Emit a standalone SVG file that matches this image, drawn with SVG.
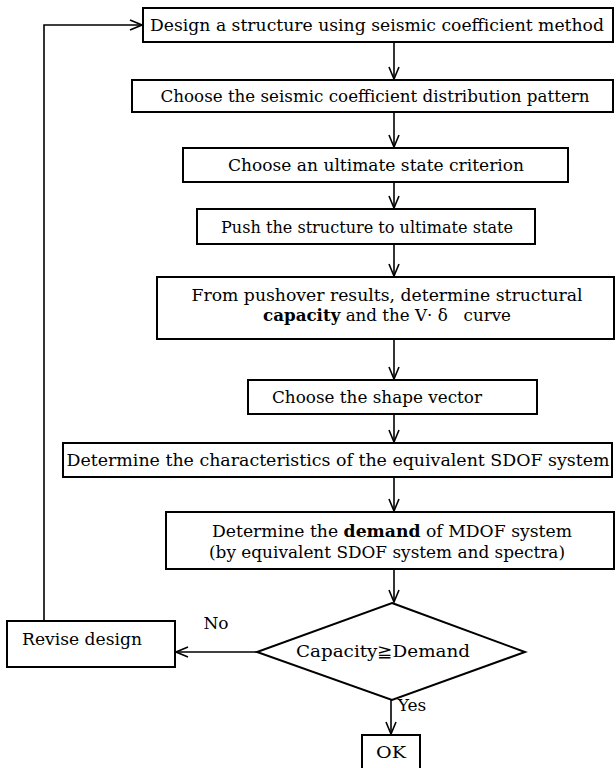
<svg xmlns="http://www.w3.org/2000/svg" width="616" height="768" viewBox="0 0 616 768">
<defs>
<marker id="arrh" viewBox="0 0 14 12" refX="13" refY="6" markerWidth="14" markerHeight="12" markerUnits="userSpaceOnUse" orient="auto">
<path d="M1,1 L13,6 L1,11" fill="none" stroke="#000" stroke-width="1.6"/>
</marker>
<style>
.b{fill:#fff;stroke:#000;stroke-width:2}
.t{font-family:"DejaVu Serif","Liberation Serif",serif;font-size:17px;fill:#000;text-anchor:middle}
.c{fill:none;stroke:#000;stroke-width:1.6}
</style>
</defs>
<rect width="616" height="768" fill="#fff"/>
<g id="connectors">
<path class="c" d="M44,621 V25 H142" marker-end="url(#arrh)"/>
<path class="c" d="M394,42 V79" marker-end="url(#arrh)"/>
<path class="c" d="M394,112 V147" marker-end="url(#arrh)"/>
<path class="c" d="M394,182 V208" marker-end="url(#arrh)"/>
<path class="c" d="M394,244 V276" marker-end="url(#arrh)"/>
<path class="c" d="M394,339 V379" marker-end="url(#arrh)"/>
<path class="c" d="M394,414 V442" marker-end="url(#arrh)"/>
<path class="c" d="M394,477 V511" marker-end="url(#arrh)"/>
<path class="c" d="M394,569 V602" marker-end="url(#arrh)"/>
<path class="c" d="M257,652 H176" marker-end="url(#arrh)"/>
<path class="c" d="M391,700 V734" marker-end="url(#arrh)"/>
</g>
<g id="n1"><rect class="b" x="143" y="8" width="470" height="34"/><text class="t" x="377" y="31" textLength="454" lengthAdjust="spacingAndGlyphs">Design a structure using seismic coefficient method</text></g>
<g id="n2"><rect class="b" x="132" y="80" width="481" height="32"/><text class="t" x="375" y="102" textLength="429" lengthAdjust="spacingAndGlyphs">Choose the seismic coefficient distribution pattern</text></g>
<g id="n3"><rect class="b" x="183" y="148" width="385" height="34"/><text class="t" x="376" y="171" textLength="296" lengthAdjust="spacingAndGlyphs">Choose an ultimate state criterion</text></g>
<g id="n4"><rect class="b" x="197" y="209" width="338" height="35"/><text class="t" x="367" y="233" textLength="292" lengthAdjust="spacingAndGlyphs">Push the structure to ultimate state</text></g>
<g id="n5"><rect class="b" x="157" y="277" width="457" height="62"/><text class="t" x="387" y="301" textLength="391" lengthAdjust="spacingAndGlyphs">From pushover results, determine structural</text><text class="t" x="387" y="321" textLength="248" lengthAdjust="spacingAndGlyphs"><tspan font-weight="bold">capacity</tspan> and the V· δ&#160;&#160; curve</text></g>
<g id="n6"><rect class="b" x="248" y="380" width="289" height="34"/><text class="t" x="377" y="403" textLength="210" lengthAdjust="spacingAndGlyphs">Choose the shape vector</text></g>
<g id="n7"><rect class="b" x="63" y="443" width="549" height="34"/><text class="t" x="338" y="466" textLength="543" lengthAdjust="spacingAndGlyphs">Determine the characteristics of the equivalent SDOF system</text></g>
<g id="n8"><rect class="b" x="166" y="512" width="448" height="57"/><text class="t" x="392" y="537" textLength="360" lengthAdjust="spacingAndGlyphs">Determine the <tspan font-weight="bold">demand</tspan> of MDOF system</text><text class="t" x="387" y="558" textLength="356" lengthAdjust="spacingAndGlyphs">(by equivalent SDOF system and spectra)</text></g>
<g id="n9"><polygon class="b" points="392,603 525,652 392,700 257,652"/><text class="t" x="383" y="657" textLength="174" lengthAdjust="spacingAndGlyphs">Capacity≧Demand</text></g>
<g id="n10"><rect class="b" x="7" y="621" width="168" height="46"/><text class="t" x="22" y="645" style="text-anchor:start" textLength="120" lengthAdjust="spacingAndGlyphs">Revise design</text></g>
<g id="n11"><rect class="b" x="362" y="735" width="58" height="40"/><text class="t" x="391" y="758" textLength="30" lengthAdjust="spacingAndGlyphs">OK</text></g>
<text class="t" x="216" y="629">No</text>
<text class="t" x="412" y="711">Yes</text>
</svg>
